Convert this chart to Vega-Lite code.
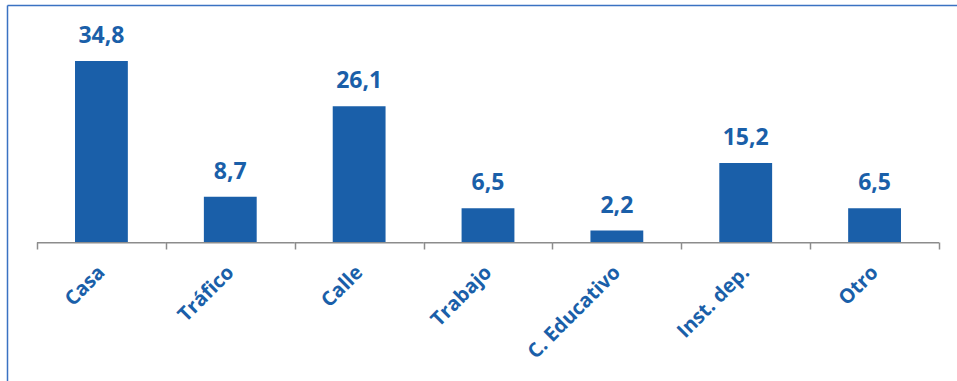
{
  "$schema": "https://vega.github.io/schema/vega-lite/v6.json",
  "autosize": {"type": "none"},
  "width": 950,
  "height": 376,
  "padding": {"left": 7, "top": 5, "right": 0, "bottom": 0},
  "background": "white",
  "config": {"view": {"stroke": null}, "font": "Open Sans"},
  "data": {"values": [
    {"lugar": "Casa", "valor": 34.8, "etiqueta": "34,8"},
    {"lugar": "Tráfico", "valor": 8.7, "etiqueta": "8,7"},
    {"lugar": "Calle", "valor": 26.1, "etiqueta": "26,1"},
    {"lugar": "Trabajo", "valor": 6.5, "etiqueta": "6,5"},
    {"lugar": "C. Educativo", "valor": 2.2, "etiqueta": "2,2"},
    {"lugar": "Inst. dep.", "valor": 15.2, "etiqueta": "15,2"},
    {"lugar": "Otro", "valor": 6.5, "etiqueta": "6,5"}
  ]},
  "resolve": {"axis": {"x": "independent"}},
  "layer": [
    {
      "mark": {"type": "bar", "color": "#1a5fa9", "width": {"band": 0.41}},
      "encoding": {
        "x": {"field": "lugar", "type": "nominal", "sort": null,
          "scale": {"paddingInner": 0, "paddingOuter": 0.18625, "align": 0.625},
          "axis": {"title": null, "domain": false, "ticks": true, "tickBand": "extent", "tickSize": 7, "tickWidth": 1.5, "tickColor": "#8c8c8c",
            "offset": -139, "labelAngle": -45, "labelAlign": "right", "labelBaseline": "middle", "labelPadding": 20,
            "labelFont": "Open Sans", "labelFontSize": 20, "labelFontWeight": "bold", "labelColor": "#1a5fa9"}},
        "y": {"field": "valor", "type": "quantitative",
          "scale": {"domain": [-26.731, 45.577], "nice": false, "zero": false},
          "axis": {"title": null, "labels": false, "ticks": false, "grid": false, "domainColor": "#3a72c2", "domainWidth": 1.5}},
        "y2": {"datum": 0}
      }
    },
    {
      "mark": {"type": "bar", "color": "#8c8c8c", "width": {"band": 1}},
      "encoding": {
        "x": {"field": "lugar", "type": "nominal", "sort": null,
          "axis": {"orient": "top", "title": null, "labels": false, "ticks": false, "domainColor": "#3a72c2", "domainWidth": 1.5}},
        "y": {"datum": 0, "type": "quantitative"},
        "y2": {"datum": -0.29}
      }
    },
    {
      "mark": {"type": "text", "color": "#1a5fa9", "font": "Open Sans", "fontSize": 23, "fontWeight": "bold", "baseline": "alphabetic", "dy": -18},
      "encoding": {
        "x": {"field": "lugar", "type": "nominal", "sort": null, "axis": null},
        "y": {"field": "valor", "type": "quantitative"},
        "text": {"field": "etiqueta"}
      }
    }
  ]
}
